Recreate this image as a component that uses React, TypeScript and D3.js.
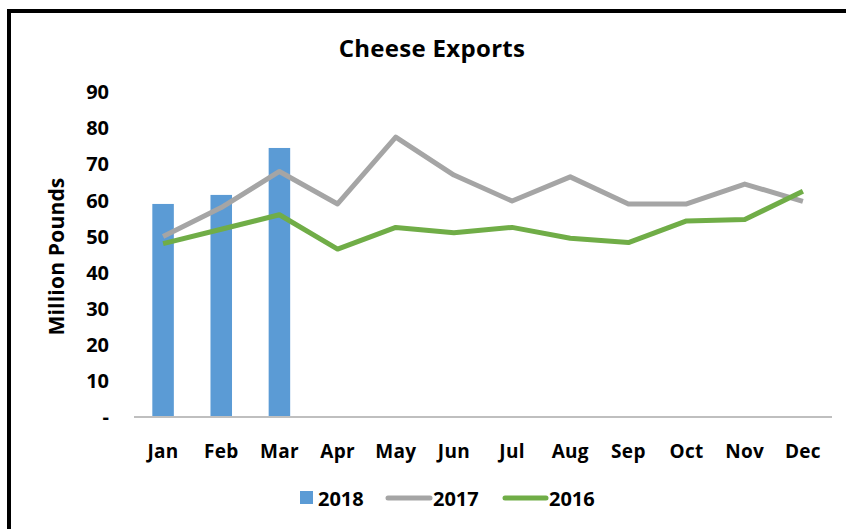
import React from "react";
import * as d3 from "d3";

const months = ["Jan", "Feb", "Mar", "Apr", "May", "Jun", "Jul", "Aug", "Sep", "Oct", "Nov", "Dec"];
const exports2018 = [59, 61.5, 74.5];
const exports2017 = [50, 58, 68, 59, 77.5, 67, 59.8, 66.5, 59, 59, 64.5, 59.7];
const exports2016 = [48, 52, 56, 46.5, 52.5, 51, 52.5, 49.5, 48.3, 54.3, 54.7, 62.5];
const yTicks = [0, 10, 20, 30, 40, 50, 60, 70, 80, 90];

const W = 846;
const H = 529;
const FONT = "'Open Sans', sans-serif";

export default function App() {
  const x = d3.scaleBand<string>().domain(months).range([134, 832]).paddingInner(0.63).paddingOuter(0.315);
  const xc = d3.scalePoint<string>().domain(months).range([134, 832]).padding(0.5);
  const y = d3.scaleLinear().domain([0, 90]).range([417, 92]);

  const line = d3
    .line<number>()
    .x((_, i) => xc(months[i]) as number)
    .y((d) => y(d));

  return (
    <div style={{ position: "fixed", left: 0, top: 0 }}>
      <svg width={W} height={H} style={{ display: "block", background: "#fff" }}>
        <rect x={0} y={0} width={W} height={H} fill="#fff" />
        <path d={`M9,${H + 10} L9,11 L${W + 10},11`} fill="none" stroke="#000" strokeWidth={4} />
        <text x={432} y={57} textAnchor="middle" fontFamily={FONT} fontWeight="bold" fontSize={24} letterSpacing={0.3} fill="#000">
          Cheese Exports
        </text>
        {yTicks.map((t) => (
          <text
            key={t}
            x={109}
            y={y(t)}
            dy="0.36em"
            textAnchor="end"
            fontFamily={FONT}
            fontWeight="bold"
            fontSize={20}
            fill="#000"
          >
            {t === 0 ? "-" : t}
          </text>
        ))}
        <text
          transform={`translate(64,${y(45) + 2}) rotate(-90)`}
          textAnchor="middle"
          fontFamily={FONT}
          fontWeight="bold"
          fontSize={21}
          letterSpacing={0.2}
          fill="#000"
        >
          Million Pounds
        </text>
        {exports2018.map((v, i) => (
          <rect
            key={months[i]}
            x={x(months[i])}
            y={y(v)}
            width={x.bandwidth()}
            height={y(0) - y(v)}
            fill="#5B9BD5"
          />
        ))}
        <line x1={134} x2={832} y1={y(0)} y2={y(0)} stroke="#BFBFBF" strokeWidth={2} />
        <path d={line(exports2017) || ""} fill="none" stroke="#A5A5A5" strokeWidth={5} strokeLinejoin="round" />
        <path d={line(exports2016) || ""} fill="none" stroke="#70AD47" strokeWidth={5} strokeLinejoin="round" />
        {months.map((m) => (
          <text
            key={m}
            x={xc(m)}
            y={458}
            textAnchor="middle"
            fontFamily={FONT}
            fontWeight="bold"
            fontSize={19}
            letterSpacing={0.3}
            fill="#000"
          >
            {m}
          </text>
        ))}
        <g fontFamily={FONT} fontWeight="bold" fontSize={20} fill="#000">
          <rect x={300} y={491} width={13} height={13} fill="#5B9BD5" />
          <text x={318} y={506}>2018</text>
          <line x1={388} x2={430} y1={498} y2={498} stroke="#A5A5A5" strokeWidth={5} strokeLinecap="round" />
          <text x={433} y={506}>2017</text>
          <line x1={505} x2={546} y1={498} y2={498} stroke="#70AD47" strokeWidth={5} strokeLinecap="round" />
          <text x={549} y={506}>2016</text>
        </g>
      </svg>
    </div>
  );
}
